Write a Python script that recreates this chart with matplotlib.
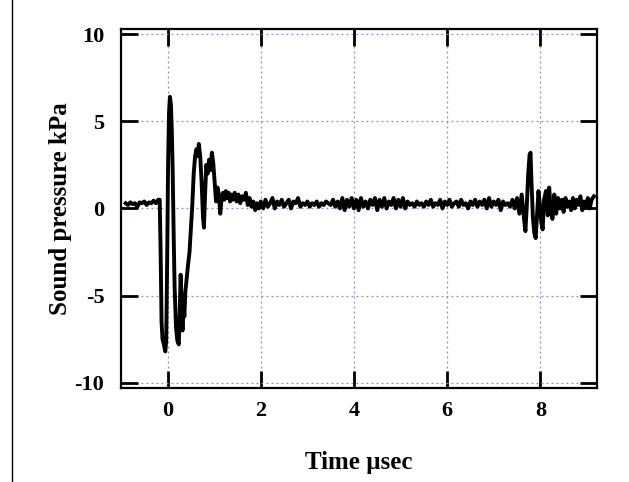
import numpy as np
import matplotlib
matplotlib.use('Agg')
from matplotlib import pyplot as plt
from matplotlib.lines import Line2D

plt.rcParams['font.family'] = ['Liberation Serif', 'DejaVu Serif']
plt.rcParams['font.weight'] = 'bold'
plt.rcParams['axes.unicode_minus'] = False

#################
# the waveform  #
#################
# baseline before the pulse
t_pre = [-0.90, -0.85, -0.80, -0.75, -0.70, -0.65, -0.60, -0.55, -0.50, -0.45,
         -0.40, -0.35, -0.30, -0.25, -0.20, -0.17]
p_pre = [0.3, 0.2, 0.35, 0.25, 0.3, 0.1, 0.35, 0.3, 0.4, 0.2,
         0.35, 0.3, 0.45, 0.3, 0.5, 0.5]

# main pulse and ringing
t_main = [-0.15, -0.13, -0.11, -0.08, -0.05, -0.03, -0.01, 0.01, 0.03, 0.05,
          0.07, 0.09, 0.11, 0.13, 0.15, 0.18, 0.21, 0.24, 0.26, 0.28,
          0.30, 0.32, 0.34, 0.36, 0.38, 0.41, 0.44, 0.47, 0.50, 0.53,
          0.56, 0.59, 0.62, 0.65, 0.67, 0.70, 0.73, 0.76, 0.78, 0.80,
          0.83, 0.86, 0.89, 0.92, 0.95, 0.98, 1.01, 1.04, 1.07, 1.10,
          1.13, 1.16, 1.19, 1.22, 1.25, 1.28, 1.31, 1.34, 1.37, 1.40,
          1.44, 1.48, 1.52, 1.56, 1.60, 1.64, 1.68, 1.72, 1.76, 1.80,
          1.84, 1.88, 1.92, 1.96]
p_main = [-2.5, -6.5, -7.5, -7.8, -8.2, -7.6, -3.0, 2.5, 5.5, 6.4,
          6.0, 4.5, 2.0, -1.5, -4.5, -6.8, -7.6, -7.8, -6.0, -3.8,
          -5.5, -7.0, -5.5, -6.2, -4.8, -4.0, -3.2, -2.5, -1.2, 0.2,
          2.0, 3.0, 3.4, 3.0, 3.7, 3.0, 1.5, -0.5, -1.1, 0.5,
          2.5, 2.0, 2.8, 2.2, 3.2, 2.6, 1.5, 0.4, 1.2, 0.8,
          -0.3, 0.6, 0.9, 0.5, 1.0, 0.6, 0.9, 0.4, 0.8, 0.5,
          0.9, 0.4, 0.8, 0.3, 0.7, 0.5, 0.9, 0.2, 0.6, 0.1,
          0.4, -0.1, 0.3, 0.0]

# quiet stretch
t_quiet = [2.00, 2.05, 2.10, 2.15, 2.20, 2.25, 2.30, 2.35, 2.40, 2.45,
           2.50, 2.55, 2.60, 2.65, 2.70, 2.75, 2.80, 2.85, 2.90, 2.95,
           3.00, 3.05, 3.10, 3.15, 3.20, 3.25, 3.30, 3.35, 3.40, 3.45,
           3.50, 3.55, 3.60, 3.65, 3.70, 3.75, 3.80, 3.85, 3.90, 3.95,
           4.00, 4.05, 4.10, 4.15, 4.20, 4.25, 4.30, 4.35, 4.40, 4.45,
           4.50, 4.55, 4.60, 4.65, 4.70, 4.75, 4.80, 4.85, 4.90, 4.95,
           5.00, 5.05, 5.10, 5.15, 5.20, 5.25, 5.30, 5.35, 5.40, 5.45,
           5.50, 5.55, 5.60, 5.65, 5.70, 5.75, 5.80, 5.85, 5.90, 5.95,
           6.00, 6.05, 6.10, 6.15, 6.20, 6.25, 6.30, 6.35, 6.40, 6.45,
           6.50, 6.55, 6.60, 6.65, 6.70, 6.75, 6.80, 6.85, 6.90, 6.95,
           7.00, 7.05, 7.10, 7.15, 7.20, 7.25]
p_quiet = [0.4, 0.0, 0.5, 0.1, 0.3, 0.6, 0.0, 0.4, 0.2, 0.5,
           0.1, 0.3, 0.5, 0.0, 0.4, 0.3, 0.6, 0.1, 0.3, 0.2,
           0.4, 0.1, 0.3, 0.2, 0.4, 0.1, 0.3, 0.2, 0.4, 0.3,
           0.2, 0.5, 0.1, 0.4, 0.0, 0.6, -0.1, 0.5, 0.1, 0.6,
           0.0, 0.5, -0.1, 0.6, 0.1, 0.4, 0.0, 0.5, 0.2, 0.6,
           -0.1, 0.5, 0.1, 0.6, 0.0, 0.4, 0.2, 0.6, 0.0, 0.5,
           0.1, 0.6, 0.0, 0.4, 0.2, 0.3, 0.1, 0.4, 0.2, 0.3,
           0.1, 0.4, 0.2, 0.5, 0.1, 0.3, 0.2, 0.5, 0.0, 0.4,
           0.2, 0.5, 0.1, 0.3, 0.4, 0.1, 0.5, 0.2, 0.3, 0.0,
           0.4, 0.2, 0.5, 0.1, 0.4, 0.2, 0.5, 0.0, 0.6, 0.1,
           0.4, 0.2, 0.5, -0.1, 0.4, 0.2]

# echo near 8 usec
t_echo = [7.30, 7.35, 7.40, 7.45, 7.50, 7.55, 7.60, 7.65, 7.68, 7.71,
          7.74, 7.77, 7.79, 7.81, 7.84, 7.87, 7.90, 7.93, 7.96, 7.99,
          8.02, 8.05, 8.08, 8.12, 8.16, 8.19, 8.22, 8.26, 8.30, 8.34,
          8.38, 8.42, 8.46, 8.50, 8.54, 8.58, 8.62, 8.66, 8.70, 8.74,
          8.78, 8.82, 8.86, 8.90, 8.94, 8.98, 9.02, 9.06, 9.10, 9.15]
p_echo = [0.3, 0.1, 0.5, 0.0, 0.6, -0.3, 0.8, -0.6, -1.3, 0.2,
          2.0, 3.1, 3.2, 1.5, -0.5, -1.4, -1.7, -0.3, 1.0, 0.2,
          -0.8, -1.2, 0.5, 1.0, -0.4, 1.2, 0.0, -0.6, 0.8, -0.3,
          0.6, 0.0, 0.5, -0.2, 0.6, 0.1, 0.4, -0.1, 0.6, 0.0,
          0.5, 0.2, 0.7, -0.1, 0.4, 0.1, 0.6, 0.0, 0.5, 0.7]

t_us = np.array(t_pre + t_main + t_quiet + t_echo)
p_kpa = np.array(p_pre + p_main + p_quiet + p_echo)

x_ticks = [0, 2, 4, 6, 8]
y_ticks = [-10, -5, 0, 5, 10]

#################
# plot the data #
#################
fig = plt.figure(figsize=(6.29, 4.82), dpi=100)
ax = fig.add_axes([0.1924, 0.195, 0.757, 0.745])

ax.plot(t_us, p_kpa, color='black', lw=2.8)

ax.set_xlim(-1.0, 9.22)
ax.set_ylim(-10.3, 10.3)
ax.set_xticks(x_ticks)
ax.set_yticks(y_ticks)
ax.grid(True, color='#8a8ac8', linestyle=(0, (1.5, 2.5)), lw=0.9)
ax.tick_params(direction='in', length=12, width=2, top=True, right=True,
               labelsize=16)
ax.tick_params(axis='x', pad=9)
ax.tick_params(axis='y', pad=12)
for s in ax.spines.values():
    s.set_linewidth(1.6)

ax.set_xlabel('Time \u00b5sec', fontsize=18, fontweight='bold', labelpad=22)
ax.set_ylabel('Sound pressure kPa', fontsize=18, fontweight='bold', labelpad=2)

# left border line of the original page
fig.add_artist(Line2D([12/629, 12/629], [0, 1], color='black', lw=1.0,
                      transform=fig.transFigure))

fig.savefig('out.png', dpi=100)
